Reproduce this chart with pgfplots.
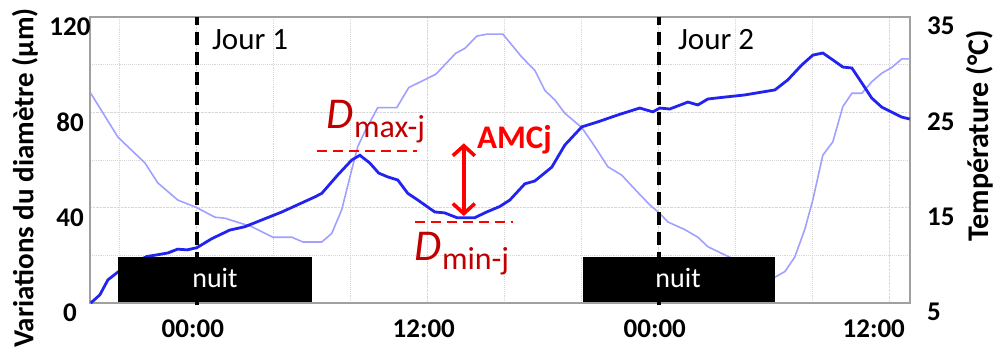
\documentclass[border=0pt]{standalone}
\usepackage{pgfplots}
\pgfplotsset{compat=1.18}
\usepackage{fontspec}
\setmainfont{Carlito}
\usetikzlibrary{arrows.meta}
\definecolor{dblue}{RGB}{35,35,240}
\definecolor{lblue}{RGB}{160,160,255}
\definecolor{dred}{RGB}{192,0,0}
\definecolor{bred}{RGB}{255,0,0}
\definecolor{framegray}{RGB}{160,160,160}
\definecolor{gridgray}{RGB}{215,215,215}

\pgfplotstableread{
h D
-5.51 0
-5.04 3.4
-4.62 9.7
-4.10 13
-3.50 16
-2.60 19.5
-2.00 20.3
-1.50 21
-1.00 22.6
-0.50 22.3
0.00 23.2
0.78 27
1.71 30.6
2.49 32
4.42 38.2
6.13 44.5
6.49 46
7.32 53.7
8.05 60
8.47 62
8.99 58.7
9.45 54.5
9.92 52.9
10.44 51.6
10.96 46
11.48 43.2
12.36 38.2
12.88 37.8
13.51 35.8
14.44 35.8
15.06 38.2
15.74 40.5
16.26 43.2
17.04 50
17.56 51.2
18.44 57
19.12 66.3
20.00 73.9
20.83 76
21.87 78.9
23.01 81.8
23.69 80.2
24.05 81.8
24.57 81.4
25.51 84.3
26.03 83.1
26.55 85.6
27.43 86.4
28.47 87.3
29.35 88.5
30.03 89.4
30.70 93.6
31.43 99.9
32.00 104
32.52 104.9
33.04 102
33.56 99
34.03 98.6
34.55 92.3
35.06 86
35.58 82.2
36.10 80.1
36.62 78
37.04 77.2
}\diam

\pgfplotstableread{
h T
-5.51 27.0
-4.10 22.4
-2.70 19.7
-2.03 17.6
-0.99 15.8
0.00 15.0
0.94 14.0
1.45 13.9
2.86 13.0
3.95 11.9
4.94 11.9
5.51 11.4
6.49 11.4
7.01 12.3
7.53 14.8
8.05 19.0
8.36 21.4
8.73 23.0
9.40 25.5
10.39 25.5
11.01 27.6
12.42 29.0
13.45 31.2
13.92 31.7
14.55 33.0
15.06 33.2
15.90 33.2
16.88 30.8
17.56 29.4
18.08 27.3
18.60 26.3
19.12 24.9
20.00 23.4
20.68 21.4
21.35 19.3
22.08 18.4
22.91 16.6
23.53 15.3
24.05 14.4
24.47 13.5
25.35 12.7
26.03 11.9
26.55 10.9
27.79 9.7
28.73 8.8
29.50 8.0
30.03 7.7
30.55 8.3
31.06 9.8
31.58 12.7
32.00 15.8
32.52 20.5
33.04 21.9
33.56 25.6
34.03 27.0
34.55 27.0
35.06 28.2
35.58 29.1
36.10 29.7
36.62 30.6
37.04 30.6
}\temp

\begin{document}
\begin{tikzpicture}
\useasboundingbox (-90pt,-51pt) rectangle (905pt,303pt);
% temperature axis (right), with frame and grid
\begin{axis}[
  width=820pt, height=286pt, scale only axis,
  xmin=-5.55, xmax=37.05,
  ymin=5, ymax=35,
  xtick={0,12,24,36},
  xticklabels={00:00,12:00,00:00,\hspace*{-24pt}12:00},
  minor xtick={-4,4,8,16,20,28,32},
  ytick={5,15,25,35},
  yticklabels={5,15,25,35},
  minor ytick={10,20,30},
  yticklabel pos=right,
  xmajorgrids, xminorgrids, ymajorgrids, yminorgrids,
  grid style={gridgray, densely dotted, line width=0.9pt},
  minor grid style={gridgray, densely dotted, line width=0.9pt},
  major tick length=0pt, minor tick length=0pt,
  axis line style={framegray, line width=2pt},
  ticklabel style={font=\fontsize{27}{30}\selectfont\bfseries, inner sep=0pt},
  yticklabel style={anchor=west, xshift=17pt, yshift=-9pt},
  xticklabel style={anchor=center, yshift=-26pt, xshift=-4pt},
]
\addplot[lblue, line width=1.6pt] table[x=h, y=T] {\temp};
\end{axis}
% diameter axis (left)
\begin{axis}[
  width=820pt, height=286pt, scale only axis,
  xmin=-5.55, xmax=37.05,
  ymin=0, ymax=120,
  xtick=\empty,
  ytick={0,40,80,120},
  yticklabels={0,40,80,120},
  axis line style={draw=none},
  major tick length=0pt,
  ticklabel style={font=\fontsize{27}{30}\selectfont\bfseries, inner sep=0pt},
  yticklabel style={anchor=center, xshift=-20pt, yshift=-10pt},
  clip=false,
]
\addplot[dblue, line width=2.8pt] table[x=h, y=D] {\diam};
% night boxes
\fill[black] (axis cs:-4.1,0.5) rectangle (axis cs:5.97,19.3);
\fill[black] (axis cs:20.05,0.5) rectangle (axis cs:30.03,19.3);
% day separators
\draw[black, line width=3.5pt, dash pattern=on 13pt off 7pt] (axis cs:0,-1) -- (axis cs:0,120);
\draw[black, line width=3.5pt, dash pattern=on 13pt off 7pt] (axis cs:24,-1) -- (axis cs:24,120);
\node[white, font=\fontsize{28}{30}\selectfont] at (axis cs:0.94,10.6) {nuit};
\node[white, font=\fontsize{28}{30}\selectfont] at (axis cs:25.0,10.6) {nuit};
\node[anchor=base west, inner sep=0pt, font=\fontsize{31}{33}\selectfont] at (axis cs:0.78,106.2) {Jour 1};
\node[anchor=base west, inner sep=0pt, font=\fontsize{31}{33}\selectfont] at (axis cs:24.99,106.2) {Jour 2};
% D max / D min annotations
\draw[bred, line width=2pt, dash pattern=on 10pt off 6pt] (axis cs:6.23,63.8) -- (axis cs:11.43,63.8);
\draw[bred, line width=2pt, dash pattern=on 10pt off 6pt] (axis cs:11.32,34) -- (axis cs:16.42,34);
\node[anchor=base west, inner sep=0pt, dred] at (axis cs:6.75,73.4) {\fontsize{44}{46}\selectfont\itshape D\raisebox{-9pt}{\fontsize{32}{34}\selectfont\upshape max-j}};
\node[anchor=base west, inner sep=0pt, dred] at (axis cs:11.32,18.0) {\fontsize{44}{46}\selectfont\itshape D\raisebox{-9pt}{\fontsize{32}{34}\selectfont\upshape min-j}};
\draw[bred, line width=3.6pt, {Straight Barb[length=10pt,width=22pt]}-{Straight Barb[length=10pt,width=22pt]}] (axis cs:13.87,36.5) -- (axis cs:13.87,67);
\node[anchor=base west, inner sep=0pt, bred, font=\fontsize{33}{35}\selectfont\bfseries] at (axis cs:14.55,65) {AMCj};
\end{axis}
\node[rotate=90, font=\fontsize{29}{31}\selectfont\bfseries] at (-65pt,125pt) {Variations du diamètre (µm)};
\node[rotate=90, font=\fontsize{30}{32}\selectfont\bfseries] at (890pt,167pt) {Température (°C)};
\end{tikzpicture}
\end{document}
